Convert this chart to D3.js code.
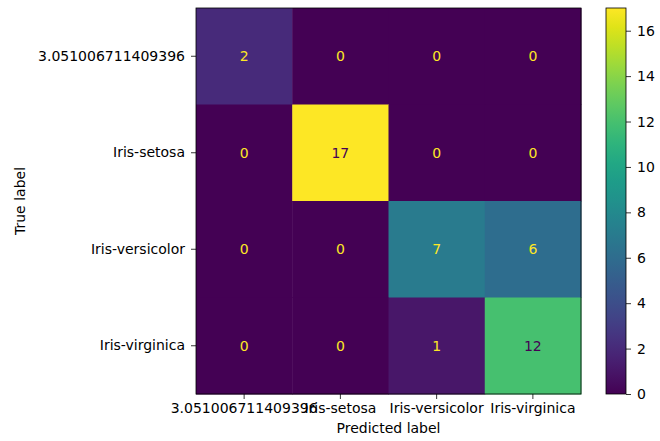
<!DOCTYPE html>
<html>
<head>
<meta charset="utf-8">
<script src="https://cdn.jsdelivr.net/npm/d3@7"></script>
<style>
  html, body { margin: 0; padding: 0; background: #fff; }
  text { font-family: "DejaVu Sans", sans-serif; }
</style>
</head>
<body>
<svg id="chart" width="660" height="441"></svg>
<script>
// Confusion matrix: rows = true label, columns = predicted label
const classLabels = ["3.051006711409396", "Iris-setosa", "Iris-versicolor", "Iris-virginica"];
const row0 = [2, 0, 0, 0];
const row1 = [0, 17, 0, 0];
const row2 = [0, 0, 7, 6];
const row3 = [0, 0, 1, 12];
const matrixRows = [row0, row1, row2, row3];
const colorbarTicks = [0, 2, 4, 6, 8, 10, 12, 14, 16];
const xTitle = "Predicted label";
const yTitle = "True label";

const svg = d3.select("#chart");
const fs = 14;

const plot = { left: 196, top: 8, width: 385, height: 386 };
const cb = { left: 606, width: 20 };

const vmin = 0, vmax = d3.max(matrixRows.flat());
const color = d3.scaleSequential(d3.interpolateViridis).domain([vmin, vmax]);

const x = d3.scaleBand().domain(classLabels).range([plot.left, plot.left + plot.width]);
const y = d3.scaleBand().domain(classLabels).range([plot.top, plot.top + plot.height]);

const cells = [];
matrixRows.forEach((r, i) => r.forEach((v, j) => cells.push({ t: classLabels[i], p: classLabels[j], v })));

svg.append("g").selectAll("rect").data(cells).join("rect")
  .attr("x", d => x(d.p)).attr("y", d => y(d.t))
  .attr("width", x.bandwidth() + 0.5).attr("height", y.bandwidth() + 0.5)
  .attr("fill", d => color(d.v));

// cell annotations: light text on dark cells, dark text on light cells
const thresh = (vmax + vmin) / 2;
svg.append("g").selectAll("text").data(cells).join("text")
  .attr("x", d => x(d.p) + x.bandwidth() / 2)
  .attr("y", d => y(d.t) + y.bandwidth() / 2)
  .attr("text-anchor", "middle").attr("dominant-baseline", "central")
  .attr("font-size", fs)
  .attr("fill", d => d.v < thresh ? color(vmax) : color(vmin))
  .text(d => d.v);

// frame
svg.append("rect").attr("x", plot.left).attr("y", plot.top)
  .attr("width", plot.width).attr("height", plot.height)
  .attr("fill", "none").attr("stroke", "#000").attr("stroke-width", 0.8);

// axes
const xAxis = d3.axisBottom(x).tickSize(5).tickPadding(4);
const gx = svg.append("g").attr("transform", `translate(0,${plot.top + plot.height})`).call(xAxis);
const yAxis = d3.axisLeft(y).tickSize(5).tickPadding(6);
const gy = svg.append("g").attr("transform", `translate(${plot.left},0)`).call(yAxis);
[gx, gy].forEach(g => {
  g.select(".domain").remove();
  g.selectAll(".tick line").attr("stroke", "#000").attr("stroke-width", 0.8);
  g.selectAll(".tick text").attr("font-size", fs).attr("fill", "#000")
    .attr("font-family", "DejaVu Sans, sans-serif");
});

svg.append("text").attr("x", plot.left + plot.width / 2).attr("y", 433)
  .attr("text-anchor", "middle").attr("font-size", fs).text(xTitle);
svg.append("text").attr("transform", `translate(25,${plot.top + plot.height / 2}) rotate(-90)`)
  .attr("text-anchor", "middle").attr("font-size", fs).text(yTitle);

// colorbar
const cy = d3.scaleLinear().domain([vmin, vmax]).range([plot.top + plot.height, plot.top]);
const defs = svg.append("defs");
const grad = defs.append("linearGradient").attr("id", "cbgrad")
  .attr("x1", 0).attr("y1", 1).attr("x2", 0).attr("y2", 0);
d3.range(0, 1.0001, 0.05).forEach(t => {
  grad.append("stop").attr("offset", t).attr("stop-color", d3.interpolateViridis(t));
});
svg.append("rect").attr("x", cb.left).attr("y", plot.top)
  .attr("width", cb.width).attr("height", plot.height)
  .attr("fill", "url(#cbgrad)").attr("stroke", "#000").attr("stroke-width", 0.8);
const cAxis = d3.axisRight(cy).tickValues(colorbarTicks).tickSize(5).tickPadding(6);
const gc = svg.append("g").attr("transform", `translate(${cb.left + cb.width},0)`).call(cAxis);
gc.select(".domain").remove();
gc.selectAll(".tick line").attr("stroke", "#000").attr("stroke-width", 0.8);
gc.selectAll(".tick text").attr("font-size", fs).attr("fill", "#000")
  .attr("font-family", "DejaVu Sans, sans-serif");
</script>
</body>
</html>
